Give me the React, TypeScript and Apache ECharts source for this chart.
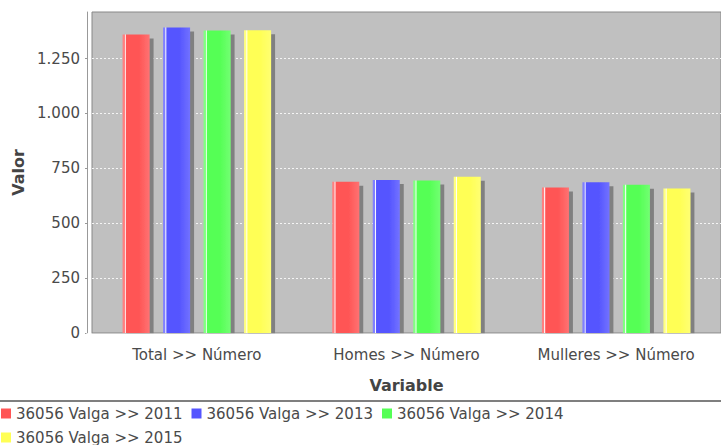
import React, { useEffect, useRef } from "react";
import * as echarts from "echarts";

const categories = ["Total >> Número", "Homes >> Número", "Mulleres >> Número"];
const seriesNames = [
  "36056 Valga >> 2011",
  "36056 Valga >> 2013",
  "36056 Valga >> 2014",
  "36056 Valga >> 2015",
];
const values2011 = [1359, 689, 663];
const values2013 = [1391, 697, 687];
const values2014 = [1378, 695, 675];
const values2015 = [1379, 712, 658];
const seriesValues = [values2011, values2013, values2014, values2015];
const baseColors = ["#ff5555", "#5555ff", "#55ff55", "#ffff55"];
const lightColors = ["#ff8080", "#8080ff", "#80ff80", "#ffff80"];
const rightColors = ["#ff7272", "#7272ff", "#72ff72", "#ffff72"];
const yTicks = [0, 250, 500, 750, 1000, 1250];

const FONT = "DejaVu Sans";

export default function App() {
  const ref = useRef<HTMLDivElement>(null);
  useEffect(() => {
    if (!ref.current) return;
    const chart = echarts.init(ref.current, null, { renderer: "svg" });
    const series = seriesNames.map((name, i) => ({
      name,
      type: "bar",
      data: seriesValues[i],
      barWidth: 27,
      barGap: "50%",
      itemStyle: {
        color: new echarts.graphic.LinearGradient(0, 0, 1, 0, [
          { offset: 0, color: lightColors[i] },
          { offset: 0.07, color: lightColors[i] },
          { offset: 0.1, color: "#ffffff" },
          { offset: 0.14, color: baseColors[i] },
          { offset: 0.6, color: baseColors[i] },
          { offset: 1, color: rightColors[i] },
        ]),
        shadowColor: "#808080",
        shadowBlur: 0,
        shadowOffsetX: 4,
        shadowOffsetY: 4,
      },
    }));
    chart.setOption({
      animation: false,
      backgroundColor: "#ffffff",
      grid: {
        left: 92,
        top: 12,
        right: -4,
        height: 321,
        show: true,
        backgroundColor: "#c0c0c0",
        borderColor: "#888888",
        borderWidth: 1,
      },
      legend: {
        left: 1,
        top: 406,
        width: 600,
        orient: "horizontal",
        itemWidth: 10,
        itemHeight: 10,
        itemGap: 9,
        icon: "rect",
        padding: 0,
        textStyle: { fontFamily: FONT, fontSize: 15, lineHeight: 15, color: "#4a4a4a" },
        data: seriesNames.map((n, i) => ({ name: n, itemStyle: { color: baseColors[i] } })),
      },
      xAxis: {
        type: "category",
        data: categories,
        offset: 6,
        name: "Variable",
        nameLocation: "middle",
        nameGap: 38,
        nameTextStyle: { fontFamily: FONT, fontSize: 16, fontWeight: "bold", color: "#444444" },
        axisLine: { show: true, lineStyle: { color: "#999999", width: 1 } },
        axisTick: { show: true, alignWithLabel: true, length: 3, lineStyle: { color: "#999999" } },
        axisLabel: { fontFamily: FONT, fontSize: 15, color: "#4a4a4a", margin: 8 },
        splitLine: { show: false },
      },
      yAxis: {
        type: "value",
        min: 0,
        max: 1462,
        interval: 250,
        offset: 5,
        name: "Valor",
        nameLocation: "middle",
        nameGap: 60,
        nameTextStyle: { fontFamily: FONT, fontSize: 16, fontWeight: "bold", color: "#444444" },
        axisLine: { show: true, lineStyle: { color: "#999999", width: 1 } },
        axisTick: { show: true, length: 2, lineStyle: { color: "#999999" } },
        axisLabel: {
          fontFamily: FONT,
          fontSize: 15,
          color: "#4a4a4a",
          margin: 7,
          showMaxLabel: false,
          formatter: (v: number) =>
            yTicks.includes(v) ? v.toLocaleString("de-DE") : "",
        },
        splitLine: {
          show: true,
          showMinLine: false,
          showMaxLine: false,
          lineStyle: { color: "#f4f4f4", type: [2, 2], width: 1 },
        },
      },
      graphic: [
        {
          type: "rect",
          z: 100,
          shape: { x: 86, y: 333.6, width: 650, height: 4.9 },
          style: { fill: "#ffffff" },
        },
        {
          type: "line",
          z: 100,
          shape: { x1: 0, y1: 401, x2: 721, y2: 401 },
          style: { stroke: "#555555", lineWidth: 1.5 },
        },
      ],
      series,
    });
    return () => chart.dispose();
  }, []);
  return (
    <div style={{ position: "fixed", left: 0, top: 0, width: 721, height: 445, overflow: "hidden" }}>
      <div ref={ref} style={{ width: 721, height: 445 }} />
    </div>
  );
}
